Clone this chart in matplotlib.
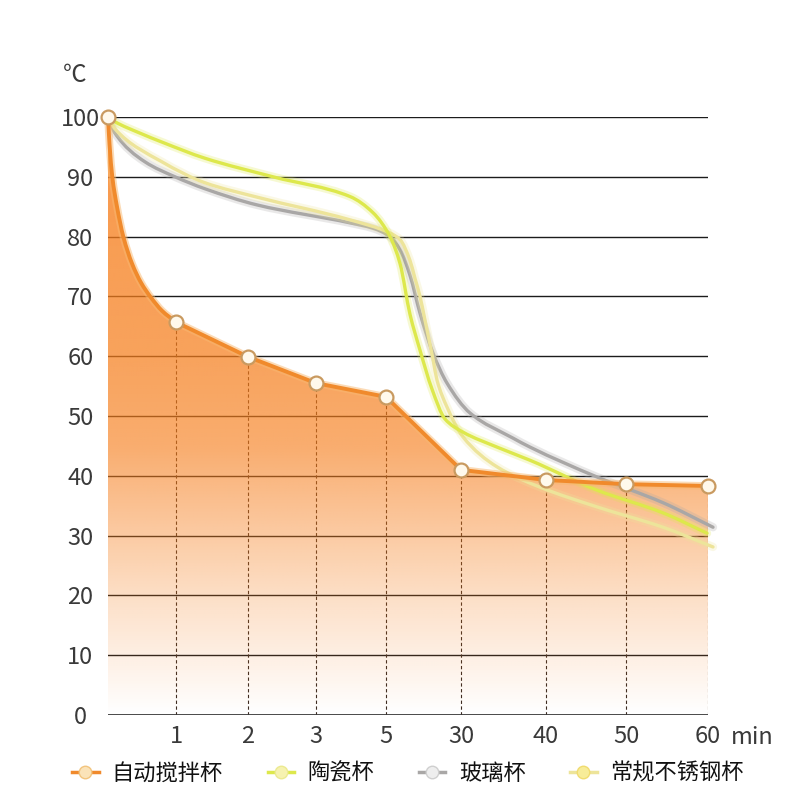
import numpy as np
import matplotlib
matplotlib.use('Agg')
import matplotlib.pyplot as plt
from matplotlib.path import Path
from matplotlib.patches import PathPatch
from matplotlib.lines import Line2D
import matplotlib.patheffects as pe

plt.rcParams['font.family'] = ['Noto Sans CJK SC', 'DejaVu Sans']

# ---------------- data ----------------
x_labels = ['1', '2', '3', '5', '30', '40', '50', '60']          # minutes
x_slots = [0, 68, 140, 208, 278, 353, 438, 518, 600]              # slot of t=0 and each label
y_ticks = [0, 10, 20, 30, 40, 50, 60, 70, 80, 90, 100]

# this product (orange): temperature at t=0 and each labelled minute
product_temp = [100, 65.7, 59.9, 55.5, 53.2, 41.0, 39.3, 38.6, 38.3]
# the curved drop between t=0 and 1 min
product_early_x = [1.5, 4.3, 9, 15.3, 24, 33, 43, 54]
product_early_y = [95.5, 90, 85, 80, 75.5, 72.3, 69.8, 67.6]

# other cups
green_x = [0, 7, 32, 54, 97, 165, 242, 265, 282, 292, 302, 312, 324, 337, 355, 389, 422, 489, 555, 599]
green_y = [100, 99.2, 97.3, 95.8, 93.1, 90, 86.7, 84, 80, 75.5, 67, 61, 54.5, 49.5, 47.3, 44.8, 42.6, 37.6, 33.8, 30.4]

pale_x = [0, 7, 54, 97, 149, 242, 282, 292, 302, 307, 312, 317, 325, 329, 339, 355, 389, 432, 489, 555, 605]
pale_y = [100, 98, 92.5, 89, 86.6, 82.8, 80.6, 79.5, 76, 73, 70, 66, 59.5, 56, 51.5, 46.5, 41.5, 38.1, 34.8, 31.4, 28.1]

gray_x = [0, 7, 37, 67, 97, 149, 242, 265, 282, 292, 302, 312, 325, 339, 362, 405, 422, 489, 555, 605]
gray_y = [100, 97.3, 92.5, 90, 88, 85.3, 82.3, 81.4, 80, 77.8, 73.5, 67.2, 60.5, 55.5, 50.5, 46.3, 44.8, 39.8, 35.5, 31.4]

legend_labels = ['自动搅拌杯', '陶瓷杯', '玻璃杯', '常规不锈钢杯']

# ---------------- style ----------------
ORANGE = '#f08a2c'
GREEN = '#dde84c'
PALE = '#ede49a'
GRAY = '#a9a7a6'
TXT = '#3a3a3a'
FS = 17


def smooth_segments(xs, ys):
    """Monotone cubic (Fritsch-Carlson) Bezier segments through the given points."""
    x = np.asarray(xs, float)
    y = np.asarray(ys, float)
    h = np.diff(x)
    d = np.diff(y) / h
    m = np.zeros_like(y)
    m[0], m[-1] = d[0], d[-1]
    for i in range(1, len(x) - 1):
        if d[i - 1] * d[i] <= 0:
            m[i] = 0
        else:
            w1 = 2 * h[i] + h[i - 1]
            w2 = h[i] + 2 * h[i - 1]
            m[i] = (w1 + w2) / (w1 / d[i - 1] + w2 / d[i])
    verts, codes = [], []
    for i in range(len(x) - 1):
        verts += [(x[i] + h[i] / 3, y[i] + m[i] * h[i] / 3),
                  (x[i + 1] - h[i] / 3, y[i + 1] - m[i + 1] * h[i] / 3),
                  (x[i + 1], y[i + 1])]
        codes += [Path.CURVE4] * 3
    return verts, codes


def smooth_path(xs, ys):
    v, c = smooth_segments(xs, ys)
    return Path([(xs[0], ys[0])] + v, [Path.MOVETO] + c)


fig = plt.figure(figsize=(7.9, 7.9), dpi=100)
ax = fig.add_axes([108 / 790, 75 / 790, 600 / 790, 598 / 790])
ax.set_xlim(x_slots[0], x_slots[-1])
ax.set_ylim(0, 100)
for s in ax.spines.values():
    s.set_visible(False)

# horizontal grid lines
for v in y_ticks[1:]:
    ax.axhline(v, color='#1c1c1c', lw=1.0, zorder=1)
ax.axhline(0, color='#3c3c3c', lw=1.3, zorder=6)

# dashed drop lines
for xs, v in zip(x_slots[1:], product_temp[1:]):
    ax.plot([xs, xs], [0, v], color='#3a2a22', lw=0.8, ls=(0, (3, 2.2)), zorder=1)

# orange series geometry: smooth first minute, straight afterwards
ex = [x_slots[0]] + product_early_x + [x_slots[1]]
ey = [product_temp[0]] + product_early_y + [product_temp[1]]
sv, sc = smooth_segments(ex, ey)
line_verts = [(ex[0], ey[0])] + sv + list(zip(x_slots[2:], product_temp[2:]))
line_codes = [Path.MOVETO] + sc + [Path.LINETO] * (len(x_slots) - 2)
orange_path = Path(line_verts, line_codes)
fill_path = Path(line_verts + [(x_slots[-1], 0), (x_slots[0], 0), (x_slots[0], product_temp[0])],
                 line_codes + [Path.LINETO, Path.LINETO, Path.CLOSEPOLY])

# gradient fill under orange line
rows = np.linspace(0, 100, 300)
alpha = np.interp(rows, [0, 19, 36, 45, 60, 100], [0.0, 0.24, 0.5, 0.64, 0.72, 0.8])
img = np.zeros((len(rows), 2, 4))
img[..., 0] = 246 / 255
img[..., 1] = 126 / 255
img[..., 2] = 28 / 255
img[..., 3] = alpha[:, None]
im = ax.imshow(img, extent=[x_slots[0], x_slots[-1], 0, 100], origin='lower',
               aspect='auto', zorder=2, interpolation='bilinear')
im.set_clip_path(fill_path, transform=ax.transData)

# other cups: smooth glowing curves
for xs, ys, c in [(gray_x, gray_y, GRAY), (pale_x, pale_y, PALE), (green_x, green_y, GREEN)]:
    patch = PathPatch(smooth_path(xs, ys), facecolor='none', edgecolor=c, lw=2.4,
                      zorder=3, clip_on=False, capstyle='round')
    patch.set_path_effects([pe.Stroke(linewidth=6, foreground=c, alpha=0.25), pe.Normal()])
    ax.add_patch(patch)

# orange line
opatch = PathPatch(orange_path, facecolor='none', edgecolor=ORANGE, lw=2.8, zorder=4,
                   clip_on=False, joinstyle='round', capstyle='round')
opatch.set_path_effects([pe.Stroke(linewidth=5.5, foreground='#f8b870', alpha=0.5), pe.Normal()])
ax.add_patch(opatch)
ax.plot(x_slots, product_temp, ls='none', marker='o', ms=10, mfc='#fff9ec', mec='#c99a60',
        mew=1.6, zorder=7, clip_on=False)

# ticks
ax.set_xticks(x_slots[1:])
ax.set_xticklabels(x_labels)
ax.set_yticks(y_ticks)
ax.set_yticklabels([str(v) for v in y_ticks])
ax.tick_params(axis='both', length=0, labelsize=FS, labelcolor=TXT)
ax.tick_params(axis='x', pad=7)
ax.tick_params(axis='y', pad=20)
for lab in ax.get_yticklabels():
    lab.set_horizontalalignment('center')
    lab.set_fontweight('light')
for lab in ax.get_xticklabels():
    lab.set_fontweight('light')

ax.annotate('min', xy=(x_slots[-1], 0), xytext=(23, -22), textcoords='offset pixels',
            ha='left', va='center', fontsize=FS, color=TXT, fontweight='light',
            annotation_clip=False)
fig.text(75 / 790, 1 - 75 / 790, '℃', ha='center', va='center', fontsize=FS,
         color=TXT, fontweight='light')

# legend along the bottom edge
handles = [
    Line2D([], [], color=ORANGE, lw=2.5, marker='o', ms=9, mfc='#fbe3b8', mec='#f2c47e'),
    Line2D([], [], color=GREEN, lw=2.5, marker='o', ms=9, mfc='#f6f2b0', mec='#ecea90'),
    Line2D([], [], color=GRAY, lw=2.5, marker='o', ms=9, mfc='#eeeeee', mec='#cfcfcf'),
    Line2D([], [], color=PALE, lw=2.5, marker='o', ms=9, mfc='#f7ec98', mec='#f0dc70'),
]
fig.legend(handles, legend_labels, loc='center', bbox_to_anchor=(0.516, 0.021), ncol=4,
           frameon=False, fontsize=16, handlelength=1.2, handletextpad=0.6,
           columnspacing=2.0, borderpad=0, labelcolor='#111111')

fig.savefig('out.png', dpi=100)
